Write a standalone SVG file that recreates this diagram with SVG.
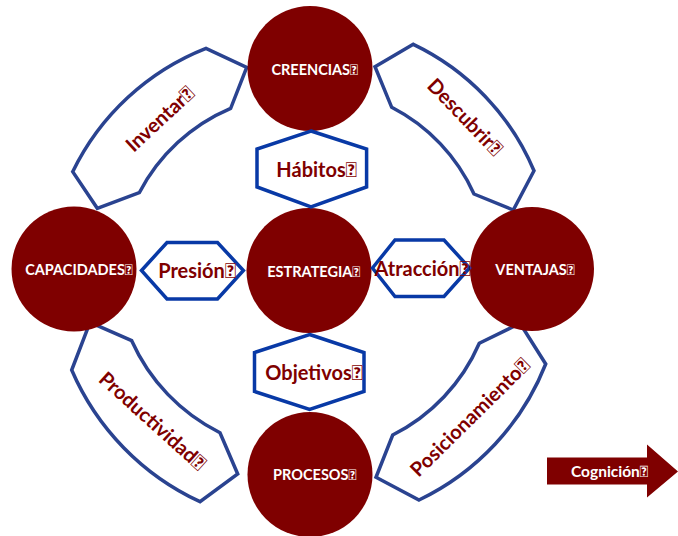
<svg xmlns="http://www.w3.org/2000/svg" width="678" height="536" viewBox="0 0 678 536">
<style>
.band{fill:none;stroke:#2a4390;stroke-width:3.5;stroke-linejoin:miter}
.hex{fill:#ffffff;stroke:#0839a6;stroke-width:3.5;stroke-linejoin:miter}
.circ{fill:#7f0000}
.ct{font-family:Lato,"Liberation Sans",sans-serif;font-weight:bold;font-size:14.5px;fill:#ffffff;text-anchor:middle}
.lt{font-family:Lato,"Liberation Sans",sans-serif;font-weight:bold;font-size:20px;fill:#7f0000;text-anchor:middle}
.at{font-family:Lato,"Liberation Sans",sans-serif;font-weight:bold;font-size:15.5px;fill:#ffffff;text-anchor:middle}
</style>
<rect width="678" height="536" fill="#ffffff"/>
<g id="bands">
<g id="inventar">
<path class="band" d="M72.7,171.7 A250,250 0 0 1 206,48.3 L246.7,67.3 L230.7,108.3 A184,184 0 0 0 139.3,192.7 L97.3,208.3 Z"/>
<text class="lt" transform="translate(160,119) rotate(-43)" y="7">Inventar&#xE000;</text>
</g>
<g id="descubrir">
<path class="band" d="M413.3,44.3 A246,246 0 0 1 534,170.7 L513.3,210 L474,194 A181,181 0 0 0 391.7,107.3 L375,66.7 Z"/>
<text class="lt" transform="translate(465,117) rotate(46)" y="7">Descubrir&#xE000;</text>
</g>
<g id="productividad">
<path class="band" d="M71.7,370 A257,257 0 0 0 200,501.7 L237.7,474 L220,432.7 A189,189 0 0 1 131.7,340.7 L90,322.3 Z"/>
<text class="lt" transform="translate(152.5,421) rotate(42)" y="7">Productividad&#xE000;</text>
</g>
<g id="posicionamiento">
<path class="band" d="M545.7,364 A254,254 0 0 1 419,500 L376,477.3 L392.7,435 A185,185 0 0 0 479.3,343.3 L520,323.3 Z"/>
<text class="lt" transform="translate(470,417.5) rotate(-44.6)" y="7">Posicionamiento&#xE000;</text>
</g>
</g>
<g id="circles">
<g id="creencias"><circle class="circ" cx="310" cy="68.5" r="62.5"/><text class="ct" x="314.7" y="75">CREENCIAS&#xE000;</text></g>
<g id="capacidades"><circle class="circ" cx="74" cy="269" r="62.5"/><text class="ct" x="79" y="275">CAPACIDADES&#xE000;</text></g>
<g id="estrategia"><circle class="circ" cx="309" cy="270.5" r="62.5"/><text class="ct" x="313.8" y="276.5">ESTRATEGIA&#xE000;</text></g>
<g id="ventajas"><circle class="circ" cx="532" cy="269" r="62"/><text class="ct" x="535" y="275">VENTAJAS&#xE000;</text></g>
<g id="procesos"><circle class="circ" cx="310" cy="474.5" r="62.5"/><text class="ct" x="314.8" y="480">PROCESOS&#xE000;</text></g>
</g>
<g id="hexagons">
<g id="habitos"><polygon class="hex" points="311,131 366.6,149 366.6,187 311,207 257,187 257,149"/><text class="lt" x="316.5" y="177">Hábitos&#xE000;</text></g>
<g id="presion"><polygon class="hex" points="141.5,270.5 167,242.5 217.5,242.5 243.4,270.5 217.5,299 167,299"/><text class="lt" x="197" y="278">Presión&#xE000;</text></g>
<g id="atraccion"><polygon class="hex" points="372.5,268 395,240 444,240 469.5,268 444,296.5 395,296.5"/><text class="lt" x="422.5" y="275.5">Atracción&#xE000;</text></g>
<g id="objetivos"><polygon class="hex" points="309.6,334.5 364,352.5 364,391.5 309.6,409.5 254.5,391.5 254.5,352.5"/><text class="lt" x="314" y="380">Objetivos&#xE000;</text></g>
</g>
<g id="cognicion">
<polygon class="circ" points="547,457.5 647,457.5 647,444.5 678,471.5 647,497.5 647,484.5 547,484.5"/>
<text class="at" x="609.7" y="476.7">Cognición&#xE000;</text>
</g>
</svg>
